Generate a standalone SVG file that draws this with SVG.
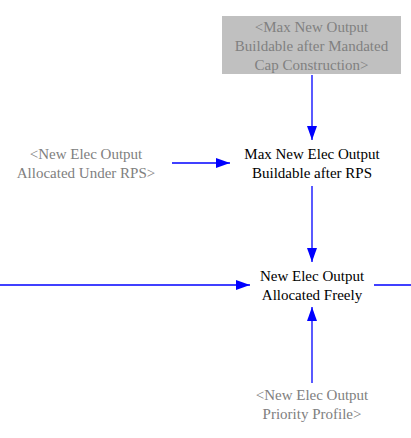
<svg xmlns="http://www.w3.org/2000/svg" width="411" height="438" viewBox="0 0 411 438">
<style>
.t{font-size:15px;text-anchor:middle}
.g{fill:#808080}
.k{fill:#000}
.c{stroke:#0000ff;stroke-width:1.3;fill:none}
</style>
<defs>
<marker id="ah" markerWidth="14" markerHeight="10" refX="14" refY="5" orient="auto" markerUnits="userSpaceOnUse">
<path d="M0,0 L14,5 L0,10 Z" fill="#0000ff"/>
</marker>
</defs>
<rect width="411" height="438" fill="#fff"/>
<g id="connectors">
<line class="c" x1="312" y1="75" x2="312" y2="140" marker-end="url(#ah)"/>
<line class="c" x1="172" y1="163" x2="230" y2="163" marker-end="url(#ah)"/>
<line class="c" x1="312" y1="186" x2="312" y2="262" marker-end="url(#ah)"/>
<line class="c" x1="0" y1="285" x2="250" y2="285" marker-end="url(#ah)"/>
<line class="c" x1="374" y1="285" x2="411" y2="285"/>
<line class="c" x1="312" y1="383" x2="312" y2="307" marker-end="url(#ah)"/>
</g>
<g font-family="Liberation Serif, Times New Roman, serif">
<g id="max-new-output-buildable-mandated">
<rect x="222" y="16" width="179" height="58" fill="#c0c0c0"/>
<text class="t g" x="311.5" y="32">&lt;Max New Output</text>
<text class="t g" x="311.5" y="51">Buildable after Mandated</text>
<text class="t g" x="311.5" y="70">Cap Construction&gt;</text>
</g>
<g id="new-elec-output-allocated-rps">
<text class="t g" x="86" y="159">&lt;New Elec Output</text>
<text class="t g" x="86" y="178">Allocated Under RPS&gt;</text>
</g>
<g id="max-new-elec-output-buildable-rps">
<text class="t k" x="312" y="159">Max New Elec Output</text>
<text class="t k" x="312" y="178">Buildable after RPS</text>
</g>
<g id="new-elec-output-allocated-freely">
<text class="t k" x="312" y="281">New Elec Output</text>
<text class="t k" x="312" y="300">Allocated Freely</text>
</g>
<g id="new-elec-output-priority-profile">
<text class="t g" x="312" y="400">&lt;New Elec Output</text>
<text class="t g" x="312" y="419">Priority Profile&gt;</text>
</g>
</g>
</svg>
